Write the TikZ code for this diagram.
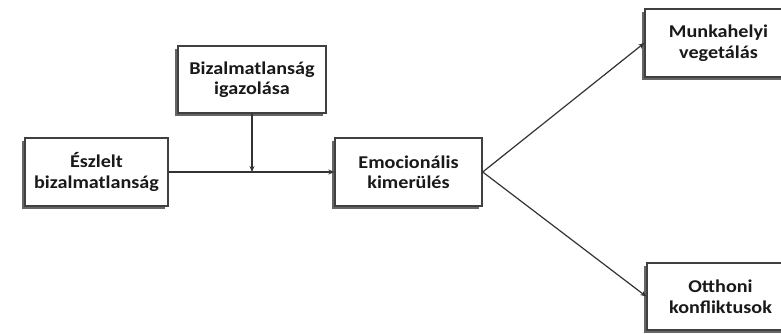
\documentclass[tikz,border=0pt]{standalone}
\usepackage{fontspec}
\setmainfont{Carlito}[FakeStretch=1.12]
\usetikzlibrary{shadows,arrows.meta}
\begin{document}
\begin{tikzpicture}[x=1pt,y=-1pt,
  box/.style={draw=black!75, line width=1.4pt, fill=white,
    minimum width=147pt, minimum height=68pt, inner sep=0pt,
    align=center, text=black!90,
    font=\fontsize{18}{20.5}\selectfont\bfseries,
    drop shadow={shadow xshift=-3pt, shadow yshift=-3pt, fill=black!60, opacity=1}},
  link/.style={draw=black!80, line width=1.2pt, -{Stealth[length=6pt,width=5pt]}}]
\useasboundingbox (0,0) rectangle (781,333);
\node[box, minimum width=143pt] (esz) at (96.5,172) {Észlelt\\bizalmatlanság};
\node[box, minimum width=148pt, minimum height=67pt] (iga) at (252,79.5) {Bizalmatlanság\\igazolása};
\node[box] (emo) at (408.5,172) {Emocionális\\kimerülés};
\node[box] (mun) at (718.5,43) {Munkahelyi\\vegetálás};
\node[box, minimum height=67pt] (ott) at (720.5,296.5) {Otthoni\\konfliktusok};
\draw[link] (esz.east) -- (emo.west);
\draw[link] (iga.south) -- (iga.south |- esz.east);
\draw[link] (emo.east) -- (mun.west);
\draw[link] (emo.east) -- (ott.west);
\end{tikzpicture}
\end{document}
